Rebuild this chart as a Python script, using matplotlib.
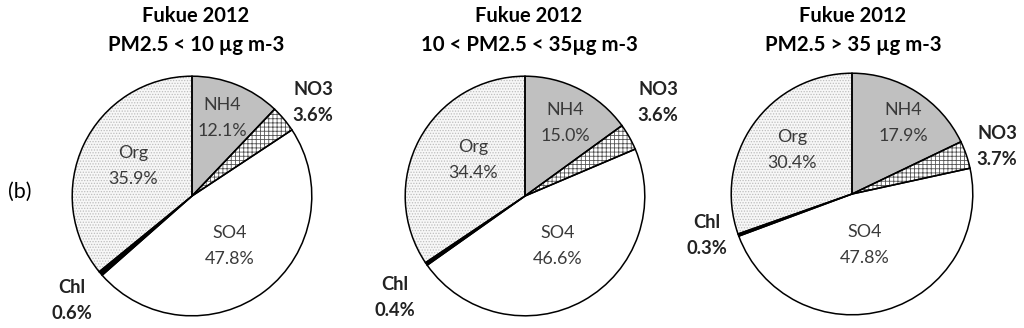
import matplotlib
matplotlib.use("Agg")
import matplotlib.pyplot as plt

plt.rcParams['font.family'] = ['Lato', 'DejaVu Sans']
plt.rcParams['hatch.linewidth'] = 0.6

components = ['NH4', 'NO3', 'SO4', 'Chl', 'Org']
titles = ['PM2.5 < 10 \u00b5g m-3', '10 < PM2.5 < 35\u00b5g m-3', 'PM2.5 > 35 \u00b5g m-3']
low = [12.1, 3.6, 47.8, 0.6, 35.9]
mid = [15.0, 3.6, 46.6, 0.4, 34.4]
high = [17.9, 3.7, 47.8, 0.3, 30.4]
pies = [low, mid, high]

faces = ['#c0c0c0', 'white', 'white', 'black', '#f7f7f7']
hatches = ['', '++++', '', '', '......']
hatch_cols = ['#c0c0c0', '#555555', 'white', 'black', '#bdbdbd']

W, H = 1024, 328
fig = plt.figure(figsize=(W / 100, H / 100), dpi=100)


def px(x, y):
    return x / W, 1 - y / H


# pie centres and radii in pixels
centres = [(192, 196, 121), (525, 196, 121), (852, 194, 122)]
title_x = [196, 529, 853]

# label block centres in pixels
inner_pos = [
    {'NH4': (222, 117), 'Org': (133, 165), 'SO4': (230, 245)},
    {'NH4': (565, 122), 'Org': (473, 159), 'SO4': (558, 245)},
    {'NH4': (903, 122), 'Org': (792, 149), 'SO4': (865, 244)},
]
outer_pos = [
    {'NO3': (313, 102), 'Chl': (72, 300)},
    {'NO3': (658, 102), 'Chl': (395, 297)},
    {'NO3': (997, 146), 'Chl': (707, 235)},
]


def two_lines(x, y, a, b, **kw):
    fig.text(*px(x, y - 7), a, ha='center', va='baseline', **kw)
    fig.text(*px(x, y + 19), b, ha='center', va='baseline', **kw)


for i, vals in enumerate(pies):
    cx, cy, R = centres[i]
    l, b = px(cx - R, cy + R)
    ax = fig.add_axes([l, b, 2 * R / W, 2 * R / H])
    wedges, _ = ax.pie(vals, colors=faces, startangle=90, counterclock=False,
                       wedgeprops=dict(linewidth=0))
    for w, h, hc in zip(wedges, hatches, hatch_cols):
        w.set_hatch(h)
        w.set_edgecolor(hc)
        w.set_linewidth(0)
    ax.pie(vals, colors=['none'] * 5, startangle=90, counterclock=False,
           wedgeprops=dict(linewidth=1.1, edgecolor='black'))
    ax.set_xlim(-1.01, 1.01)
    ax.set_ylim(-1.01, 1.01)
    ax.set_aspect('auto')
    ax.axis('off')

    fig.text(*px(title_x[i], 22), 'Fukue 2012', ha='center', va='baseline',
             fontsize=14.5, fontweight='bold')
    fig.text(*px(title_x[i], 51), titles[i], ha='center', va='baseline',
             fontsize=14.7, fontweight='bold')

    for name, (x, y) in inner_pos[i].items():
        v = vals[components.index(name)]
        two_lines(x, y, name, f'{v:.1f}%', fontsize=12.9, color='#3a3a3a')
    for name, (x, y) in outer_pos[i].items():
        v = vals[components.index(name)]
        two_lines(x, y, name, f'{v:.1f}%', fontsize=13.2, fontweight='bold', color='#222222')

fig.text(*px(20, 192), '(b)', ha='center', va='center', fontsize=15.5)

fig.savefig('out.png', dpi=100)
